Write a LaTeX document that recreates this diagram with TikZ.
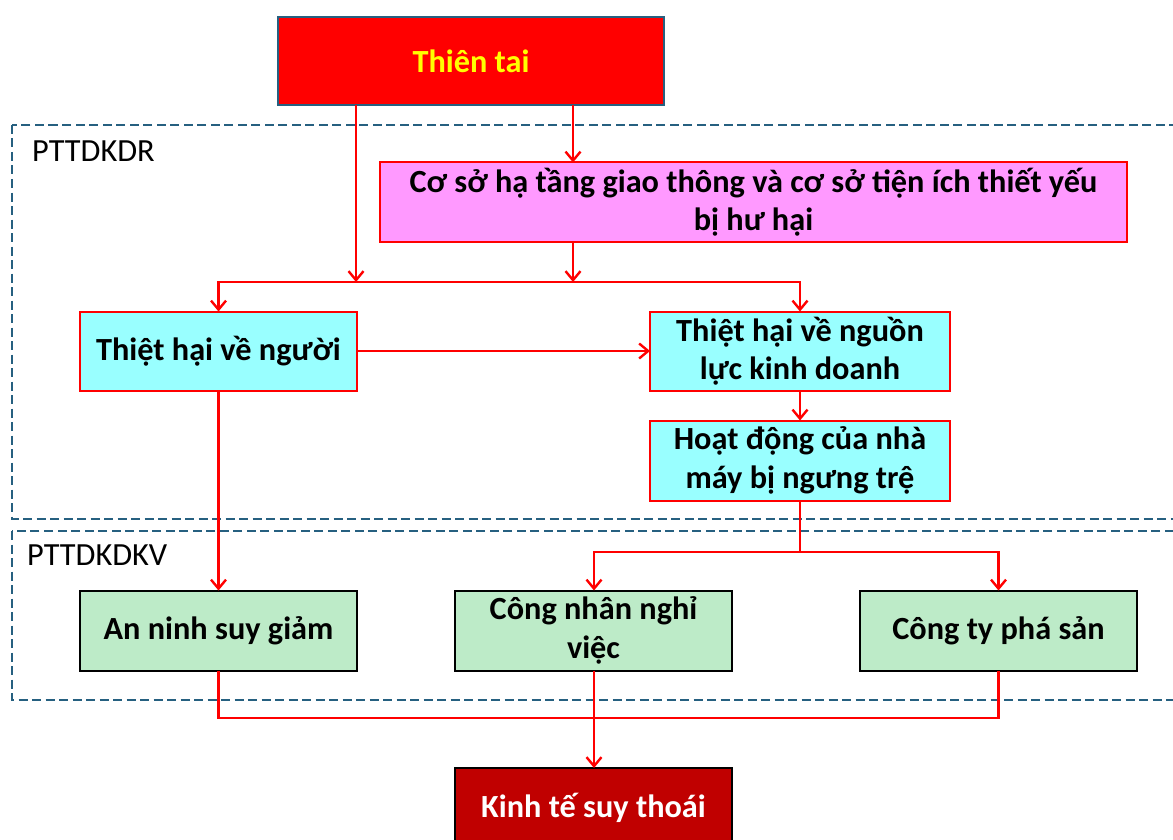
\documentclass[tikz,border=0pt]{standalone}
\usepackage{fontspec}
\setmainfont{Carlito}
\usetikzlibrary{arrows.meta}
\definecolor{frameblue}{RGB}{38,96,128}
\definecolor{boxcyan}{RGB}{153,255,255}
\definecolor{boxpink}{RGB}{255,153,255}
\definecolor{boxgreen}{RGB}{189,235,200}
\definecolor{darkred}{RGB}{192,0,0}
\definecolor{linkred}{RGB}{255,0,0}
\definecolor{titleyellow}{RGB}{255,255,0}
\begin{document}
\begin{tikzpicture}[x=1pt,y=-1pt,
  box/.style={draw, line width=2pt, inner sep=0pt, outer sep=0pt, align=center,
    font=\fontsize{32.3}{38.5}\selectfont\bfseries},
  redbox/.style={box, draw=linkred},
  greenbox/.style={box, draw=black, fill=boxgreen, minimum width=277pt, minimum height=80pt},
  frame/.style={draw=frameblue, line width=2pt, dash pattern=on 9pt off 4.5pt},
  lbl/.style={inner sep=0pt, anchor=base west, font=\fontsize{32.3}{38.5}\selectfont},
  link/.style={draw=linkred, line width=2.4pt},
  arr/.style={link, -{Straight Barb[length=9pt,width=15pt]}}
]
\useasboundingbox (0,0) rectangle (1173,840);

% dashed regions
\draw[frame] (12,125) rectangle (1200,519);
\draw[frame] (12,531) rectangle (1200,700);
\node[lbl] (lr) at (32,162) {PTTDKDR};
\node[lbl] (lv) at (27,565) {PTTDKDKV};

% boxes
\node[box, draw=frameblue, fill=red, text=titleyellow,
  minimum width=386pt, minimum height=88pt] (tt) at (471,61) {Thiên tai};
\node[redbox, fill=boxpink, minimum width=747pt, minimum height=79pt] (pk) at (753.5,202)
  {Cơ sở hạ tầng giao thông và cơ sở tiện ích thiết yếu\\bị hư hại};
\node[redbox, fill=boxcyan, minimum width=277pt, minimum height=79pt] (ng) at (218.5,351)
  {Thiệt hại về người};
\node[redbox, fill=boxcyan, minimum width=300pt, minimum height=79pt] (nl) at (800,351)
  {Thiệt hại về nguồn\\lực kinh doanh};
\node[redbox, fill=boxcyan, minimum width=300pt, minimum height=80pt] (hd) at (800,460.5)
  {Hoạt động của nhà\\máy bị ngưng trệ};
\node[greenbox] (an) at (218.5,630.5) {An ninh suy giảm};
\node[greenbox] (cn) at (593.5,630.5) {Công nhân nghỉ\\việc};
\node[greenbox] (ct) at (998.5,630.5) {Công ty phá sản};
\node[box, draw=black, fill=darkred, text=white,
  minimum width=277pt, minimum height=80pt] (kt) at (593.5,808) {Kinh tế suy thoái};

% junctions
\coordinate (xb) at (356,0);
\coordinate (j1) at (573,282);
\coordinate (j2) at (800,552);
\coordinate (j3) at (594,718);

% connectors
\draw[arr] (tt.south -| j1) -- (pk.north -| j1);
\draw[arr] (tt.south -| xb) -- (xb |- j1);
\draw[arr] (pk.south -| j1) -- (j1);
\draw[arr] (j1) -| (ng.north);
\draw[arr] (j1) -| (nl.north);
\draw[arr] (ng.east) -- (nl.west);
\draw[arr] (nl.south) -- (hd.north);
\draw[link] (hd.south) -- (j2);
\draw[arr] (j2) -| (cn.north -| j3);
\draw[arr] (j2) -| (ct.north);
\draw[arr] (ng.south) -- (an.north);
\draw[link] (an.south) |- (j3);
\draw[link] (ct.south) |- (j3);
\draw[arr] (cn.south -| j3) -- (kt.north -| j3);
\end{tikzpicture}
\end{document}
